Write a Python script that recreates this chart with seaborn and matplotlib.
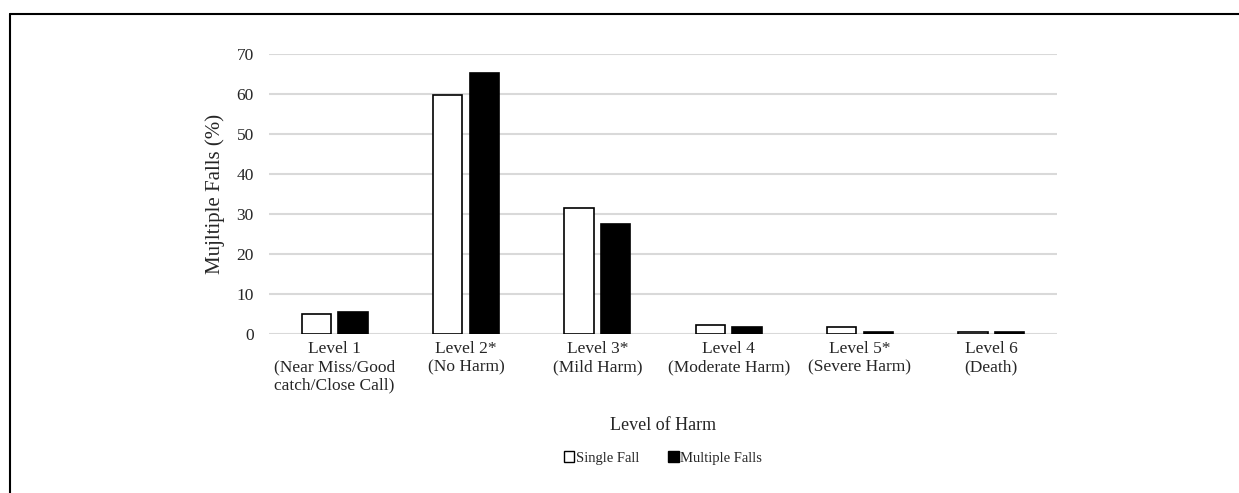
import pandas as pd
import matplotlib.pyplot as plt
import seaborn as sns
from matplotlib.lines import Line2D
from matplotlib.patches import Patch

# Datos
niveles = [
    "Level 1\n(Near Miss/Good\ncatch/Close Call)",
    "Level 2*\n(No Harm)",
    "Level 3*\n(Mild Harm)",
    "Level 4\n(Moderate Harm)",
    "Level 5*\n(Severe Harm)",
    "Level 6\n(Death)",
]
single_fall = [4.9, 59.8, 31.5, 2.2, 1.7, 0.4]
multiple_falls = [5.4, 65.2, 27.5, 1.8, 0.6, 0.4]
grupos = ["Single Fall", "Multiple Falls"]

df = pd.DataFrame({
    "nivel": niveles * 2,
    "valor": single_fall + multiple_falls,
    "grupo": [grupos[0]] * len(niveles) + [grupos[1]] * len(niveles),
})

sns.set_style("white")
plt.rcParams["font.family"] = ["Liberation Serif", "DejaVu Serif"]

fig = plt.figure(figsize=(12.39, 4.93), dpi=100)
ax = fig.add_axes([269 / 1239, 1 - 334 / 493, 788 / 1239, 280 / 493])

sns.barplot(
    data=df, x="nivel", y="valor", hue="grupo",
    palette=["white", "black"], edgecolor="black", linewidth=1.2,
    width=0.56, gap=0.2, ax=ax, legend=False,
)

ax.set_ylim(0, 70)
ax.set_yticks(range(0, 71, 10))
ax.yaxis.grid(True, color="#d9d9d9", linewidth=1.5)
ax.set_axisbelow(True)
for s in ax.spines.values():
    s.set_visible(False)
ax.tick_params(axis="both", length=0, labelsize=12.5)
ax.tick_params(axis="y", pad=11)
ax.tick_params(axis="x", pad=5)
ax.set_xlabel("")
ax.set_ylabel("Mujltiple Falls (%)", fontsize=15, labelpad=8)

fig.text(663 / 1239, 1 - 425 / 493, "Level of Harm", ha="center", va="center", fontsize=13)

handles = [Patch(facecolor="white", edgecolor="black", label=grupos[0]),
           Patch(facecolor="black", edgecolor="black", label=grupos[1])]
fig.legend(handles=handles, loc="center", bbox_to_anchor=(663 / 1239, 1 - 458 / 493),
           ncol=2, frameon=False, fontsize=10.5, handlelength=0.7, handleheight=0.7,
           handletextpad=0.1, columnspacing=2.0)

# marco superior e izquierdo
fig.add_artist(Line2D([10 / 1239, 1], [1 - 14 / 493, 1 - 14 / 493], color="black", linewidth=1.5))
fig.add_artist(Line2D([10 / 1239, 10 / 1239], [0, 1 - 14 / 493], color="black", linewidth=1.5))

fig.savefig("out.png", dpi=100)
